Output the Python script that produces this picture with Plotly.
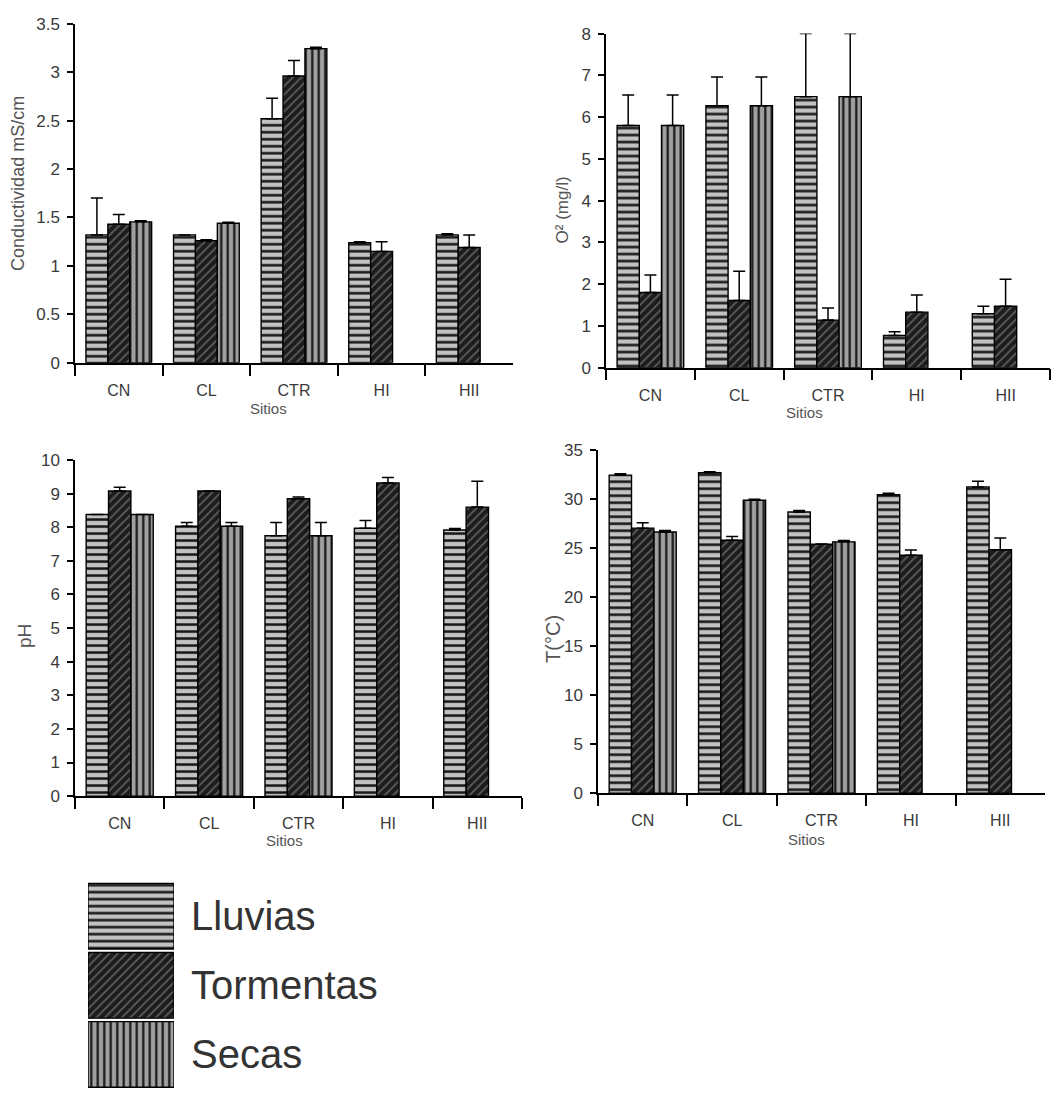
import plotly.graph_objects as go

# ---------------- DATA ----------------
sites = ["CN", "CL", "CTR", "HI", "HII"]
seasons = ["Lluvias", "Tormentas", "Secas"]

# Conductividad (mS/cm)
cond_lluvias = [1.32, 1.32, 2.52, 1.24, 1.32]
cond_lluvias_err = [0.38, None, 0.21, 0.01, 0.013]
cond_tormentas = [1.43, 1.26, 2.96, 1.15, 1.19]
cond_tormentas_err = [0.10, 0.01, 0.16, 0.10, 0.13]
cond_secas = [1.455, 1.44, 3.243, None, None]
cond_secas_err = [0.01, 0.01, 0.014, None, None]

# O2 (mg/l)
o2_lluvias = [5.80, 6.27, 6.49, 0.77, 1.29]
o2_lluvias_err = [0.73, 0.69, 1.51, 0.09, 0.18]
o2_tormentas = [1.80, 1.61, 1.14, 1.33, 1.47]
o2_tormentas_err = [0.42, 0.70, 0.29, 0.41, 0.65]
o2_secas = [5.80, 6.27, 6.49, None, None]
o2_secas_err = [0.73, 0.69, 1.51, None, None]

# pH
ph_lluvias = [8.38, 8.03, 7.75, 7.97, 7.92]
ph_lluvias_err = [None, 0.11, 0.39, 0.23, 0.04]
ph_tormentas = [9.08, 9.08, 8.85, 9.32, 8.60]
ph_tormentas_err = [0.11, None, 0.05, 0.16, 0.77]
ph_secas = [8.38, 8.03, 7.75, None, None]
ph_secas_err = [None, 0.11, 0.39, None, None]

# Temperatura (°C)
t_lluvias = [32.46, 32.70, 28.69, 30.46, 31.26]
t_lluvias_err = [0.14, 0.10, 0.17, 0.14, 0.57]
t_tormentas = [27.05, 25.82, 25.42, 24.28, 24.85]
t_tormentas_err = [0.55, 0.38, None, 0.54, 1.20]
t_secas = [26.65, 29.90, 25.65, None, None]
t_secas_err = [0.15, 0.10, 0.13, None, None]

y_titles = ["Conductividad mS/cm", "O² (mg/l)", "pH", "T(°C)"]
x_title = "Sitios"

# ---------------- STYLE / LAYOUT ----------------
W, H = 1052, 1099
FONT = "Liberation Sans, Arial, sans-serif"
TXT = "#3a3a3a"

STYLE = {
    "Lluvias":   dict(bg="#c2c2c2", fg="#151515", shape="-", size=7, solidity=0.36),
    "Tormentas": dict(bg="#1c1c1c", fg="#5e5e5e", shape="/", size=6, solidity=0.3),
    "Secas":     dict(bg="#a0a0a0", fg="#151515", shape="|", size=6.5, solidity=0.34),
}


def px_x(p):
    return p / W


def px_y(p):
    return 1 - p / H


panels = [
    dict(n="", vals=[cond_lluvias, cond_tormentas, cond_secas],
         errs=[cond_lluvias_err, cond_tormentas_err, cond_secas_err],
         xdom=(75, 513), ydom=(15, 360), yr=[0, 3.5], dtick=0.5,
         ytitle_pos=(18, 178, 18), sitios_pos=(268, 407)),
    dict(n="2", vals=[o2_lluvias, o2_tormentas, o2_secas],
         errs=[o2_lluvias_err, o2_tormentas_err, o2_secas_err],
         xdom=(606, 1050), ydom=(25, 365), yr=[0, 8], dtick=1,
         ytitle_pos=(562, 205, 17), sitios_pos=(804, 411)),
    dict(n="3", vals=[ph_lluvias, ph_tormentas, ph_secas],
         errs=[ph_lluvias_err, ph_tormentas_err, ph_secas_err],
         xdom=(75, 522), ydom=(459, 801), yr=[0, 10], dtick=1,
         ytitle_pos=(25, 638, 19), sitios_pos=(284, 846)),
    dict(n="4", vals=[t_lluvias, t_tormentas, t_secas],
         errs=[t_lluvias_err, t_tormentas_err, t_secas_err],
         xdom=(598, 1045), ydom=(449, 798), yr=[0, 35], dtick=5,
         ytitle_pos=(553, 641, 20), sitios_pos=(806, 845)),
]

fig = go.Figure()
layout = dict(
    width=W, height=H,
    margin=dict(l=0, r=0, t=0, b=0),
    paper_bgcolor="white", plot_bgcolor="white",
    barmode="group", bargap=0.25, bargroupgap=0,
    showlegend=False,
    font=dict(family=FONT, color=TXT),
    annotations=[],
)


def pattern(st):
    return dict(shape=st["shape"], bgcolor=st["bg"], fgcolor=st["fg"],
                size=st["size"], solidity=st["solidity"], fillmode="replace")


for p, ytitle in zip(panels, y_titles):
    xa = "x" + p["n"]
    ya = "y" + p["n"]
    for season, vals, errs in zip(seasons, p["vals"], p["errs"]):
        st = STYLE[season]
        fig.add_trace(go.Bar(
            x=sites, y=vals, name=season, xaxis=xa, yaxis=ya,
            marker=dict(color=st["bg"], line=dict(color="black", width=1.4),
                        pattern=pattern(st)),
            error_y=dict(type="data", symmetric=False, array=errs,
                         arrayminus=[0] * len(errs), color="black",
                         thickness=1.5, width=6),
            showlegend=False, hoverinfo="skip",
        ))
    layout["xaxis" + p["n"]] = dict(
        domain=[px_x(p["xdom"][0]), px_x(p["xdom"][1])], anchor=ya,
        type="category", range=[-0.5, 4.5],
        showline=True, linecolor="black", linewidth=1.5,
        ticks="outside", tickson="boundaries", ticklen=11, tickwidth=1.5,
        tickcolor="black", ticklabelstandoff=12,
        tickfont=dict(family=FONT, size=16, color=TXT),
        showgrid=False, zeroline=False, fixedrange=True,
    )
    layout["yaxis" + p["n"]] = dict(
        domain=[px_y(p["ydom"][1]), px_y(p["ydom"][0])], anchor=xa,
        range=p["yr"], dtick=p["dtick"], tick0=0,
        showline=True, linecolor="black", linewidth=1.5,
        ticks="outside", ticklen=6, tickwidth=1.5, tickcolor="black",
        ticklabelstandoff=4,
        tickfont=dict(family=FONT, size=17, color=TXT),
        showgrid=False, zeroline=False, fixedrange=True,
    )
    tx, ty, tsize = p["ytitle_pos"]
    layout["annotations"].append(dict(
        text=ytitle, xref="paper", yref="paper", x=px_x(tx), y=px_y(ty),
        xanchor="center", yanchor="middle", textangle=-90, showarrow=False,
        font=dict(family=FONT, size=tsize, color="#555555"),
    ))
    sx, sy = p["sitios_pos"]
    layout["annotations"].append(dict(
        text=x_title, xref="paper", yref="paper", x=px_x(sx), y=px_y(sy),
        xanchor="center", yanchor="middle", showarrow=False,
        font=dict(family=FONT, size=15, color="#555555"),
    ))

# ---------------- LEGEND (large swatches) ----------------
for season in seasons:
    st = STYLE[season]
    fig.add_trace(go.Bar(
        y=[season], x=[1], orientation="h", xaxis="x5", yaxis="y5",
        width=0.95, offsetgroup="legend", alignmentgroup="legend",
        marker=dict(color=st["bg"], line=dict(color="black", width=1.4),
                    pattern=pattern(st)),
        showlegend=False, hoverinfo="skip",
    ))
layout["xaxis5"] = dict(domain=[px_x(88), px_x(174)], anchor="y5", range=[0, 1],
                        visible=False, fixedrange=True)
layout["yaxis5"] = dict(domain=[0, px_y(888)], anchor="x5", type="category",
                        categoryorder="array", categoryarray=seasons,
                        range=[2.5, -0.5], side="right", showline=False,
                        ticks="", ticklabelstandoff=16, showgrid=False, zeroline=False,
                        tickfont=dict(family=FONT, size=40, color="#333333"),
                        fixedrange=True)

fig.update_layout(**layout)
fig.write_html("out.html")
